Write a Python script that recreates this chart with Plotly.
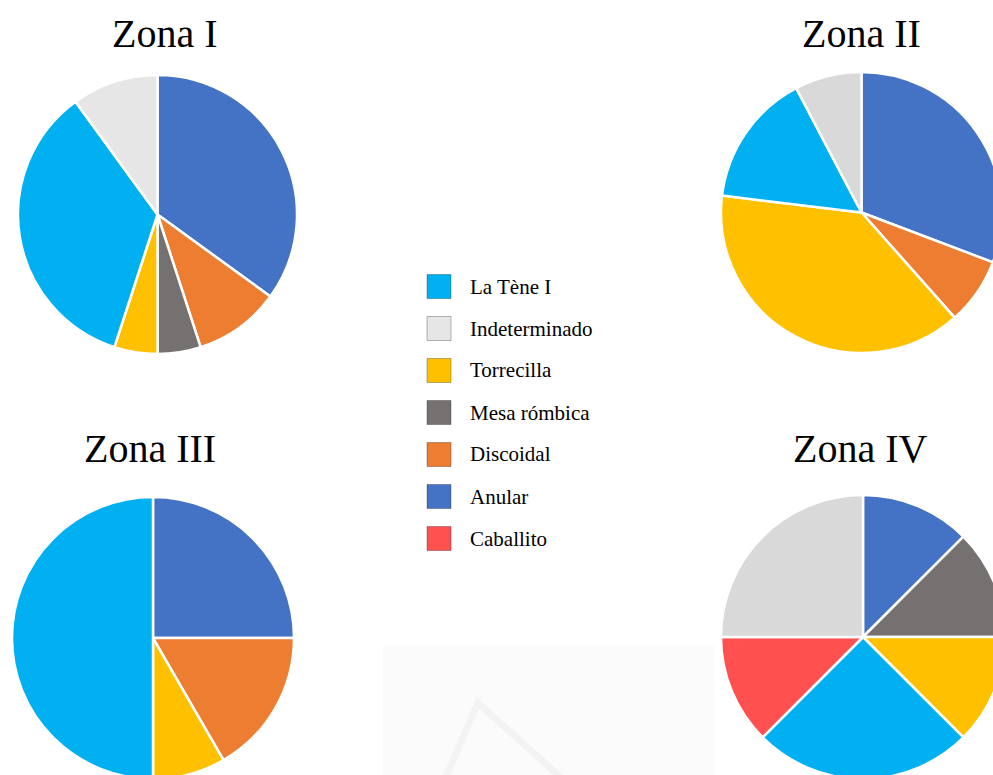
import plotly.graph_objects as go

# Canvas slightly larger than the visible window so the outer pies run off the edges
W, H = 1010, 790

categories = ["La Tène I", "Indeterminado", "Torrecilla", "Mesa rómbica",
              "Discoidal", "Anular", "Caballito"]

# Pieces counted per zone (clockwise from 12 o'clock)
zona1_labels = ["Anular", "Discoidal", "Mesa rómbica", "Torrecilla", "La Tène I", "Indeterminado"]
zona1_values = [7, 2, 1, 1, 7, 2]

zona2_labels = ["Anular", "Discoidal", "Torrecilla", "La Tène I", "Indeterminado"]
zona2_values = [4, 1, 5, 2, 1]

zona3_labels = ["Anular", "Discoidal", "Torrecilla", "La Tène I"]
zona3_values = [3, 2, 1, 6]

zona4_labels = ["Anular", "Mesa rómbica", "Torrecilla", "La Tène I", "Caballito", "Indeterminado"]
zona4_values = [1, 1, 1, 2, 1, 2]

titles = ["Zona I", "Zona II", "Zona III", "Zona IV"]

colors = {
    "La Tène I": "#00B0F0",
    "Indeterminado": "#E7E6E6",
    "Torrecilla": "#FFC000",
    "Mesa rómbica": "#767171",
    "Discoidal": "#ED7D31",
    "Anular": "#4472C4",
    "Caballito": "#FF5050",
}
grey_alt = "#D9D9D9"

SERIF = "Liberation Serif, Times New Roman, serif"


def domain(cx, cy, r):
    return dict(x=[(cx - r) / W, (cx + r) / W],
                y=[(H - cy - r) / H, (H - cy + r) / H])


def slice_colors(labels, light_grey=True):
    out = []
    for lab in labels:
        c = colors[lab]
        if lab == "Indeterminado" and not light_grey:
            c = grey_alt
        out.append(c)
    return out


pies = [
    (zona1_labels, zona1_values, (157.5, 214.5, 139.5), True),
    (zona2_labels, zona2_values, (861.5, 212.5, 140.5), False),
    (zona3_labels, zona3_values, (153, 638, 141), True),
    (zona4_labels, zona4_values, (863, 637, 142), False),
]

fig = go.Figure()

# faint background panel with a triangle mark near the bottom
fig.add_shape(type="rect", xref="paper", yref="paper",
              x0=383 / W, x1=715 / W, y0=0, y1=(H - 646) / H,
              fillcolor="#FBFBFB", line=dict(width=0), layer="below")
fig.add_shape(type="path", xref="paper", yref="paper",
              path=f"M {440/W},{(H-790)/H} L {478/W},{(H-703)/H} L {575/W},{(H-790)/H}",
              line=dict(color="#F3F3F3", width=7), layer="below")

for (labels, values, (cx, cy, r), light) in pies:
    fig.add_trace(go.Pie(
        labels=labels, values=values, sort=False, direction="clockwise",
        rotation=0, textinfo="none", hoverinfo="label+value+percent",
        marker=dict(colors=slice_colors(labels, light),
                    line=dict(color="white", width=2.5)),
        domain=domain(cx, cy, r), showlegend=False,
    ))

# zone titles
title_pos = [(165, 33), (861, 33), (150, 449), (860, 449)]
for t, (x, y) in zip(titles, title_pos):
    fig.add_annotation(text=t, x=x / W, y=(H - y) / H, xref="paper", yref="paper",
                       xanchor="center", yanchor="middle", showarrow=False,
                       font=dict(family=SERIF, size=40, color="black"))

# legend: swatches and names
leg_x0, leg_size, leg_y0, leg_step = 427, 24, 286.5, 42
for i, cat in enumerate(categories):
    yc = leg_y0 + i * leg_step
    fig.add_shape(type="rect", xref="paper", yref="paper",
                  x0=leg_x0 / W, x1=(leg_x0 + leg_size) / W,
                  y0=(H - yc - leg_size / 2) / H, y1=(H - yc + leg_size / 2) / H,
                  fillcolor=colors[cat], line=dict(color="rgba(0,0,0,0.28)", width=1))
    fig.add_annotation(text=cat, x=468 / W, y=(H - yc) / H, xref="paper", yref="paper",
                       xanchor="left", yanchor="middle", showarrow=False,
                       font=dict(family=SERIF, size=21, color="black"))

fig.update_layout(width=W, height=H, margin=dict(l=0, r=0, t=0, b=0),
                  paper_bgcolor="white", plot_bgcolor="white")

fig.write_html("out.html", post_script="document.body.style.overflow='hidden';document.body.style.margin='0';")
